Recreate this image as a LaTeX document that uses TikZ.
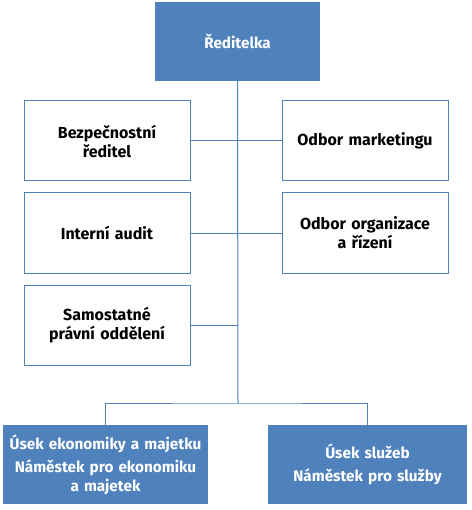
\documentclass[tikz,border=0pt]{standalone}
\usepackage{fontspec}
\setmainfont{Fira Sans}
\definecolor{orgblue}{HTML}{4F81BD}
\tikzset{
    unitbox/.style={draw=orgblue, line width=1pt, fill=white, align=center,
        font=\bfseries\fontsize{16}{19}\selectfont, inner sep=2pt,
        text width=160pt, minimum width=166pt, minimum height=80pt},
    headbox/.style={fill=orgblue, text=white, align=center,
        font=\bfseries\fontsize{15.3}{18.5}\selectfont, inner sep=2pt,
        minimum height=79pt},
    link/.style={draw=orgblue, line width=1pt}
}
\begin{document}
\begin{tikzpicture}[x=1pt, y=-1pt]
    \useasboundingbox (0,0) rectangle (471,510);

    % Head of the organisation
    \node[headbox, minimum width=165pt, text width=160pt] (head) at (237.5,41.5) {Ředitelka};

    % Units on the left side
    \node[unitbox] (security) at (107,141) {Bezpečnostní\\ředitel};
    \node[unitbox] (audit) at (107,233) {Interní audit};
    \node[unitbox] (legal) at (107,325) {Samostatné\\právní oddělení};

    % Units on the right side
    \node[unitbox] (marketing) at (365,141) {Odbor marketingu};
    \node[unitbox] (organization) at (365,233) {Odbor organizace\\a řízení};

    % Deputies at the bottom
    \node[headbox, minimum width=205pt, text width=201pt] (economy) at (105.5,464.5)
        {Úsek ekonomiky a majetku\\[5pt]Náměstek pro ekonomiku\\a majetek};
    \node[headbox, minimum width=199pt, text width=195pt] (services) at (367.5,464.5)
        {Úsek služeb\\[5pt]Náměstek pro služby};

    % Trunk and branches
    \coordinate (fork) at (238,403);
    \draw[link] (head.south) -- (fork);
    \draw[link] (security.east) -- (security.east -| fork);
    \draw[link] (audit.east) -- (audit.east -| fork);
    \draw[link] (legal.east) -- (legal.east -| fork);
    \draw[link] (marketing.west) -- (marketing.west -| fork);
    \draw[link] (organization.west) -- (organization.west -| fork);
    \draw[link] (economy.north) |- (fork) -| (services.north);
\end{tikzpicture}
\end{document}
